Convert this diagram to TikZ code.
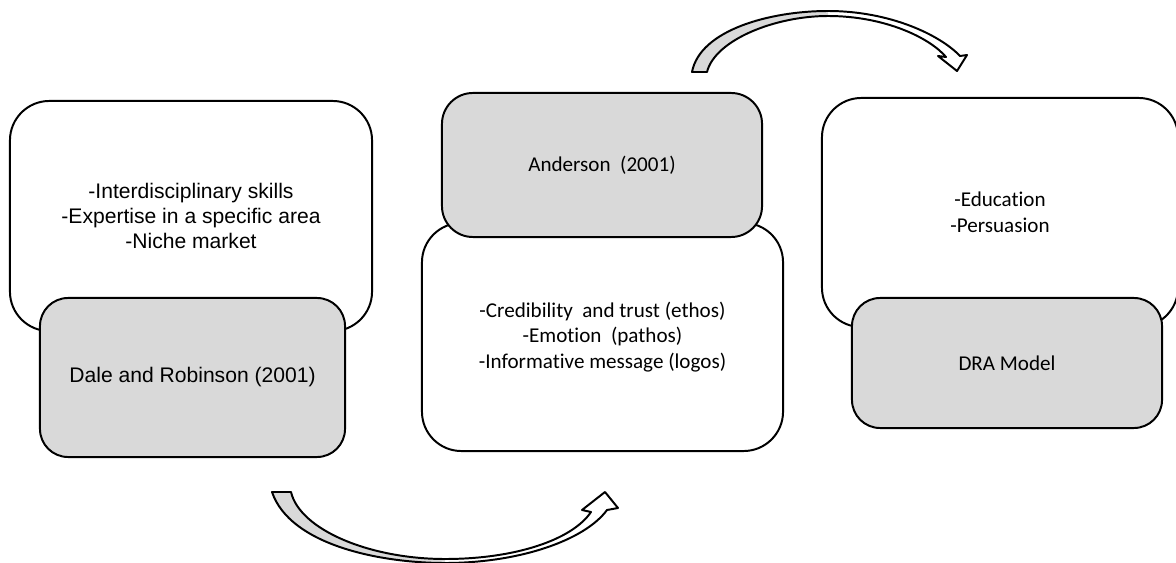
\documentclass[tikz,border=0pt]{standalone}
\usepackage{fontspec}
\setmainfont{Liberation Sans}
\newfontfamily\calibrifont[Ligatures={NoCommon, NoRare}, Contextuals=NoAlternate]{Carlito}
\definecolor{namefill}{RGB}{217, 217, 217}
\tikzset{
    every node/.style={align=center, font=\fontsize{15}{17.7}\selectfont},
    backbox/.style={draw, line width=1.4pt, rounded corners=28pt, fill=white},
    namebox/.style={draw, line width=1.4pt, rounded corners=20pt, fill=namefill},
}

\begin{document}
\begin{tikzpicture}[x=0.025cm, y=-0.025cm]
    \useasboundingbox (0, 0) rectangle (1176, 563);
    \node[backbox, minimum width=9.05cm, minimum height=5.75cm] (skills) at (191, 216)
        {-Interdisciplinary skills\\-Expertise in a specific area\\-Niche market};
    \node[namebox, minimum width=7.625cm, minimum height=3.975cm] (dale) at (192.5, 377.5)
        {Dale and Robinson (2001)};
    \node[backbox, minimum width=9.025cm, minimum height=5.7cm, font=\calibrifont\fontsize{15}{18.4}\selectfont]
        (appeals) at (602.5, 337)
        {-Credibility~ and trust (ethos)\\-Emotion~ (pathos)\\-Informative message (logos)};
    \node[namebox, rounded corners=22pt, minimum width=8cm, minimum height=3.6cm, font=\calibrifont\fontsize{15}{18}\selectfont]
        (anderson) at (602, 165) {Anderson~ (2001)};
    \node[backbox, minimum width=8.9cm, minimum height=5.725cm, font=\calibrifont\fontsize{15}{18.4}\selectfont]
        (aims) at (1000, 212.5) {-Education\\-Persuasion};
    \node[namebox, minimum width=7.75cm, minimum height=3.25cm, font=\calibrifont\fontsize{15}{18}\selectfont]
        (dra) at (1007, 363) {DRA Model};

    \fill[namefill] (272, 492) -- (291, 492) .. controls (300, 530) and (370, 559) .. (445, 559)
        -- (445, 563) .. controls (380, 563) and (290, 545) .. (272, 492) -- cycle;
    \draw[line width=1.4pt, line join=round] (272, 492) -- (291, 492)
        .. controls (300, 530) and (370, 559) .. (445, 559)
        .. controls (515, 559) and (572, 540) .. (591, 512)
        -- (582, 510) -- (605, 492) -- (618, 508) -- (607, 510)
        .. controls (585, 540) and (520, 563) .. (445, 563)
        .. controls (380, 563) and (290, 545) .. (272, 492) -- cycle;

    \fill[namefill] (692, 72) -- (707, 72) .. controls (715, 40) and (775, 16) .. (828, 16)
        -- (828, 11) .. controls (770, 11) and (700, 30) .. (692, 72) -- cycle;
    \draw[line width=1.4pt, line join=round] (692, 72) -- (707, 72)
        .. controls (715, 40) and (775, 16) .. (828, 16)
        .. controls (885, 16) and (930, 38) .. (946, 57)
        -- (938, 56) -- (957, 71) -- (967, 55) -- (960, 56)
        .. controls (940, 35) and (890, 11) .. (828, 11)
        .. controls (770, 11) and (700, 30) .. (692, 72) -- cycle;
\end{tikzpicture}
\end{document}
